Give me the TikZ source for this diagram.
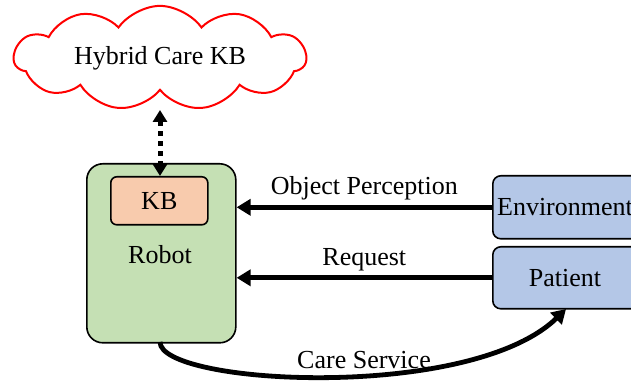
\documentclass[tikz,border=0pt]{standalone}
\usepackage{fontspec}
\setmainfont{Liberation Serif}
\usetikzlibrary{shapes.symbols,arrows.meta}
\definecolor{robotgreen}{HTML}{C5E0B4}
\definecolor{kborange}{HTML}{F8CBAD}
\definecolor{agentblue}{HTML}{B4C7E7}
\tikzset{
  lbl/.style={font=\fontsize{13}{15}\selectfont},
  box/.style={draw=black, line width=0.8pt, rounded corners=4pt, anchor=north west, inner sep=0pt},
  flow/.style={line width=2.4pt, -{Triangle[length=7pt,width=8pt]}},
}
\begin{document}
\begin{tikzpicture}[x=0.5pt,y=-0.5pt,lbl]
\path[use as bounding box] (0,0) rectangle (631,383);

% knowledge cloud
\node[cloud, draw=red, line width=1pt, cloud puffs=11, cloud puff arc=110, aspect=3.4,
      minimum width=146pt, minimum height=40pt, inner sep=0pt] (cloud) at (160,58) {Hybrid Care KB};

% robot with its local knowledge base
\node[box, rounded corners=8pt, fill=robotgreen, minimum width=74.5pt, minimum height=89.5pt] (robot) at (86,163) {};
\node[box, rounded corners=3pt, fill=kborange, minimum width=48.5pt, minimum height=24pt] (kb) at (110,176) {};
\node at (kb.center) {KB};
\node at (160,255) {Robot};

% external agents
\node[box, fill=agentblue, minimum width=75pt, minimum height=31.5pt] (env) at (492,175) {};
\node at (565,207) {Environment};
\node[box, fill=agentblue, minimum width=75pt, minimum height=31pt] (pat) at (492,246) {};
\node at (565,278) {Patient};

% links
\draw[line width=2.5pt, dash pattern=on 2.5pt off 2.5pt,
      {Triangle[length=6pt,width=7pt]}-{Triangle[length=6pt,width=7pt]}]
      (cloud.south |- 0,110) -- (kb.north -| cloud.south);

\coordinate (envL) at (env.west);
\coordinate (robE1) at (robot.east |- envL);
\draw[flow] (envL) -- (robE1) node[midway, above=-1pt] {Object Perception};

\coordinate (patL) at (pat.west);
\coordinate (robE2) at (robot.east |- patL);
\draw[flow] (patL) -- (robE2) node[midway, above=-1pt] {Request};

\coordinate (robS) at (160,342);
\coordinate (patS) at (566,309);
\draw[flow] (robS) .. controls (160,385) and (470,402) .. (patS);
\node at (364,360) {Care Service};
\end{tikzpicture}
\end{document}
